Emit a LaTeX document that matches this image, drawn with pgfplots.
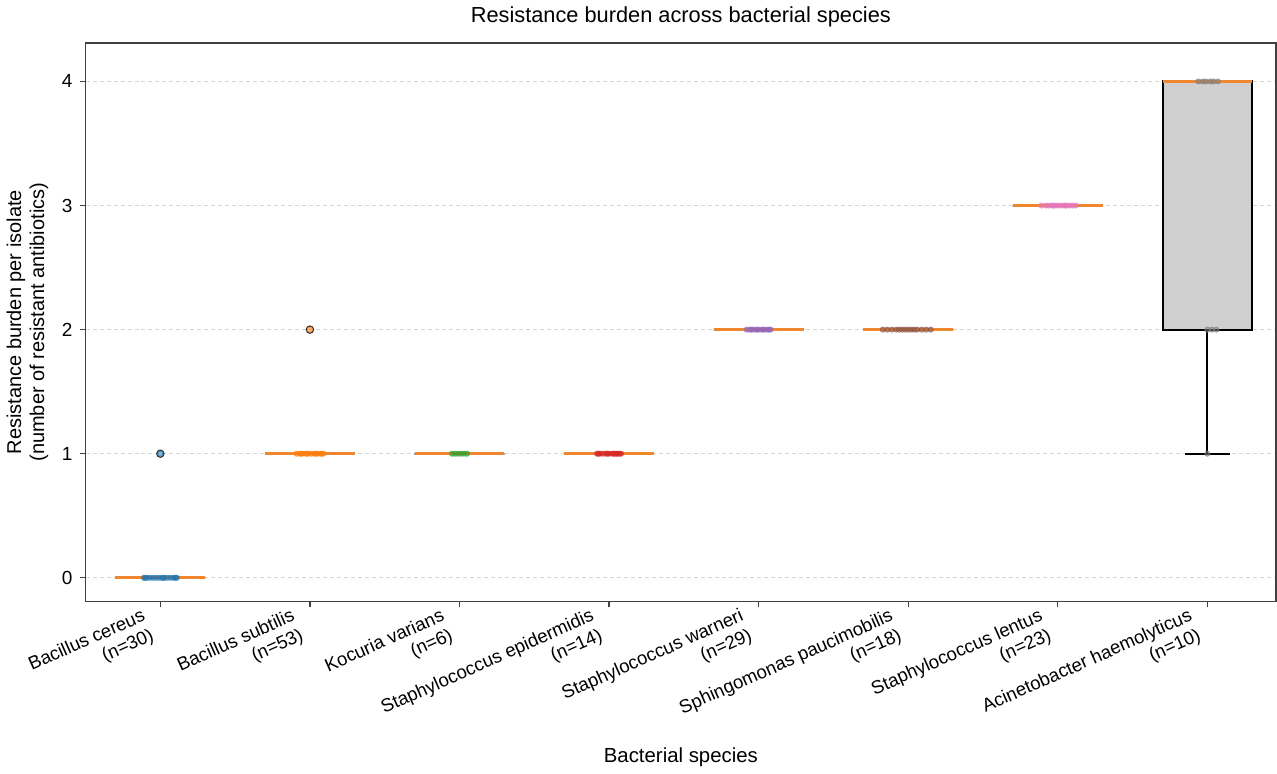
\documentclass[border=0pt]{standalone}
\usepackage{pgfplots}
\pgfplotsset{compat=1.18}
\usepgfplotslibrary{statistics}
\usepackage{fontspec}
\setmainfont{Liberation Sans}

\definecolor{medorange}{HTML}{F0872E}
\definecolor{boxgray}{HTML}{D0D0D0}
\definecolor{gridgray}{HTML}{D6D6D6}
\definecolor{framegray}{HTML}{404040}
\definecolor{cBlue}{HTML}{1F77B4}
\definecolor{cOrange}{HTML}{FF7F0E}
\definecolor{cGreen}{HTML}{2CA02C}
\definecolor{cRed}{HTML}{D62728}
\definecolor{cPurple}{HTML}{9467BD}
\definecolor{cBrown}{HTML}{8C564B}
\definecolor{cPink}{HTML}{E377C2}
\definecolor{cGray}{HTML}{7F7F7F}

\pgfplotsset{
  bx/.style={draw=black, fill=boxgray, line width=1pt, solid, mark=none,
    boxplot/draw direction=y,
    boxplot/box extend=0.6, boxplot/whisker extend=0.3,
    boxplot/every median/.style={draw=medorange, line width=1.5pt}},
  pts/.style={only marks, mark=*, mark size=1.3pt, draw=#1, fill=#1,
    mark options={draw opacity=0.7, fill opacity=0.55}},
  flier/.style={only marks, mark=o, mark size=1.8pt, draw=black!80, line width=0.6pt},
}

\begin{document}
\begin{tikzpicture}
\begin{axis}[
  scale only axis,
  width=596pt, height=279.5pt,
  xmin=-0.5, xmax=7.46,
  ymin=-0.19, ymax=4.31,
  xtick={0,1,2,3,4,5,6,7},
  xticklabels={
    {Bacillus cereus\\(n=30)},
    {Bacillus subtilis\\(n=53)},
    {Kocuria varians\\(n=6)},
    {Staphylococcus epidermidis\\(n=14)},
    {Staphylococcus warneri\\(n=29)},
    {Sphingomonas paucimobilis\\(n=18)},
    {Staphylococcus lentus\\(n=23)},
    {Acinetobacter haemolyticus\\(n=10)}
  },
  xticklabel style={xshift=-9pt, yshift=2pt, rotate=24, anchor=north east, align=right,
    font=\fontsize{9.3}{10.6}\selectfont, inner sep=1.5pt},
  ytick={0,1,2,3,4},
  yticklabel style={font=\fontsize{9.5}{11}\selectfont},
  /pgf/number format/assume math mode=true,
  ymajorgrids,
  grid style={gridgray, line width=0.5pt, dash pattern=on 2pt off 1.5pt},
  tick align=outside,
  xtick pos=bottom, ytick pos=left,
  major tick length=3pt,
  tick style={framegray, line width=0.6pt},
  axis line style={framegray, line width=0.8pt},
  title={Resistance burden across bacterial species},
  title style={font=\fontsize{10.9}{12.5}\selectfont, yshift=-1.5pt},
  xlabel={Bacterial species},
  xlabel style={font=\fontsize{10.2}{12}\selectfont},
  ylabel={Resistance burden per isolate\\(number of resistant antibiotics)},
  ylabel style={font=\fontsize{10}{11.5}\selectfont, align=center},
]

% boxes: whisker/quartile/median summaries
\addplot[bx, boxplot prepared={draw position=0, lower whisker=0, lower quartile=0,
  median=0, upper quartile=0, upper whisker=0}] coordinates {};
\addplot[bx, boxplot prepared={draw position=1, lower whisker=1, lower quartile=1,
  median=1, upper quartile=1, upper whisker=1}] coordinates {};
\addplot[bx, boxplot prepared={draw position=2, lower whisker=1, lower quartile=1,
  median=1, upper quartile=1, upper whisker=1}] coordinates {};
\addplot[bx, boxplot prepared={draw position=3, lower whisker=1, lower quartile=1,
  median=1, upper quartile=1, upper whisker=1}] coordinates {};
\addplot[bx, boxplot prepared={draw position=4, lower whisker=2, lower quartile=2,
  median=2, upper quartile=2, upper whisker=2}] coordinates {};
\addplot[bx, boxplot prepared={draw position=5, lower whisker=2, lower quartile=2,
  median=2, upper quartile=2, upper whisker=2}] coordinates {};
\addplot[bx, boxplot prepared={draw position=6, lower whisker=3, lower quartile=3,
  median=3, upper quartile=3, upper whisker=3}] coordinates {};
\addplot[bx, boxplot prepared={draw position=7, lower whisker=1, lower quartile=2,
  median=4, upper quartile=4, upper whisker=4}] coordinates {};

% outliers
\addplot[flier] coordinates {(0,1) (1,2)};

% individual isolates (jittered)
\addplot[pts=cBlue] coordinates {
  (-0.11,0) (-0.09,0) (-0.07,0) (-0.05,0) (-0.03,0) (-0.01,0) (0.01,0)
  (0.03,0) (0.05,0) (0.07,0) (0.09,0) (0.11,0) (-0.10,0) (0.10,0) (0.02,0)
  (0,1)};
\addplot[pts=cOrange] coordinates {
  (0.91,1) (0.93,1) (0.95,1) (0.97,1) (0.99,1) (1.01,1) (1.03,1)
  (1.05,1) (1.07,1) (1.09,1) (0.94,1) (1.04,1) (1.08,1) (0.98,1)
  (1,2)};
\addplot[pts=cGreen] coordinates {
  (1.95,1) (1.97,1) (1.99,1) (2.01,1) (2.03,1) (2.05,1)};
\addplot[pts=cRed] coordinates {
  (2.92,1) (2.94,1) (2.96,1) (2.98,1) (3.00,1) (3.02,1) (3.04,1)
  (3.06,1) (3.08,1) (2.93,1) (3.05,1) (2.99,1) (3.03,1) (3.07,1)};
\addplot[pts=cPurple] coordinates {
  (3.92,2) (3.94,2) (3.96,2) (3.98,2) (4.00,2) (4.02,2) (4.04,2)
  (4.06,2) (4.08,2) (3.95,2) (4.03,2) (3.99,2) (4.07,2)};
\addplot[pts=cBrown] coordinates {
  (4.83,2) (4.86,2) (4.89,2) (4.92,2) (4.94,2) (4.96,2) (4.98,2)
  (5.00,2) (5.02,2) (5.04,2) (5.06,2) (5.09,2) (5.12,2) (5.15,2)};
\addplot[pts=cPink] coordinates {
  (5.89,3) (5.92,3) (5.94,3) (5.96,3) (5.98,3) (6.00,3) (6.02,3)
  (6.04,3) (6.06,3) (6.08,3) (6.10,3) (6.12,3) (5.97,3) (6.05,3)};
\addplot[pts=cGray] coordinates {
  (6.94,4) (6.97,4) (6.99,4) (7.02,4) (7.04,4) (7.07,4)
  (7.00,2) (7.03,2) (7.06,2) (7.00,1)};

\end{axis}
\end{tikzpicture}
\end{document}
